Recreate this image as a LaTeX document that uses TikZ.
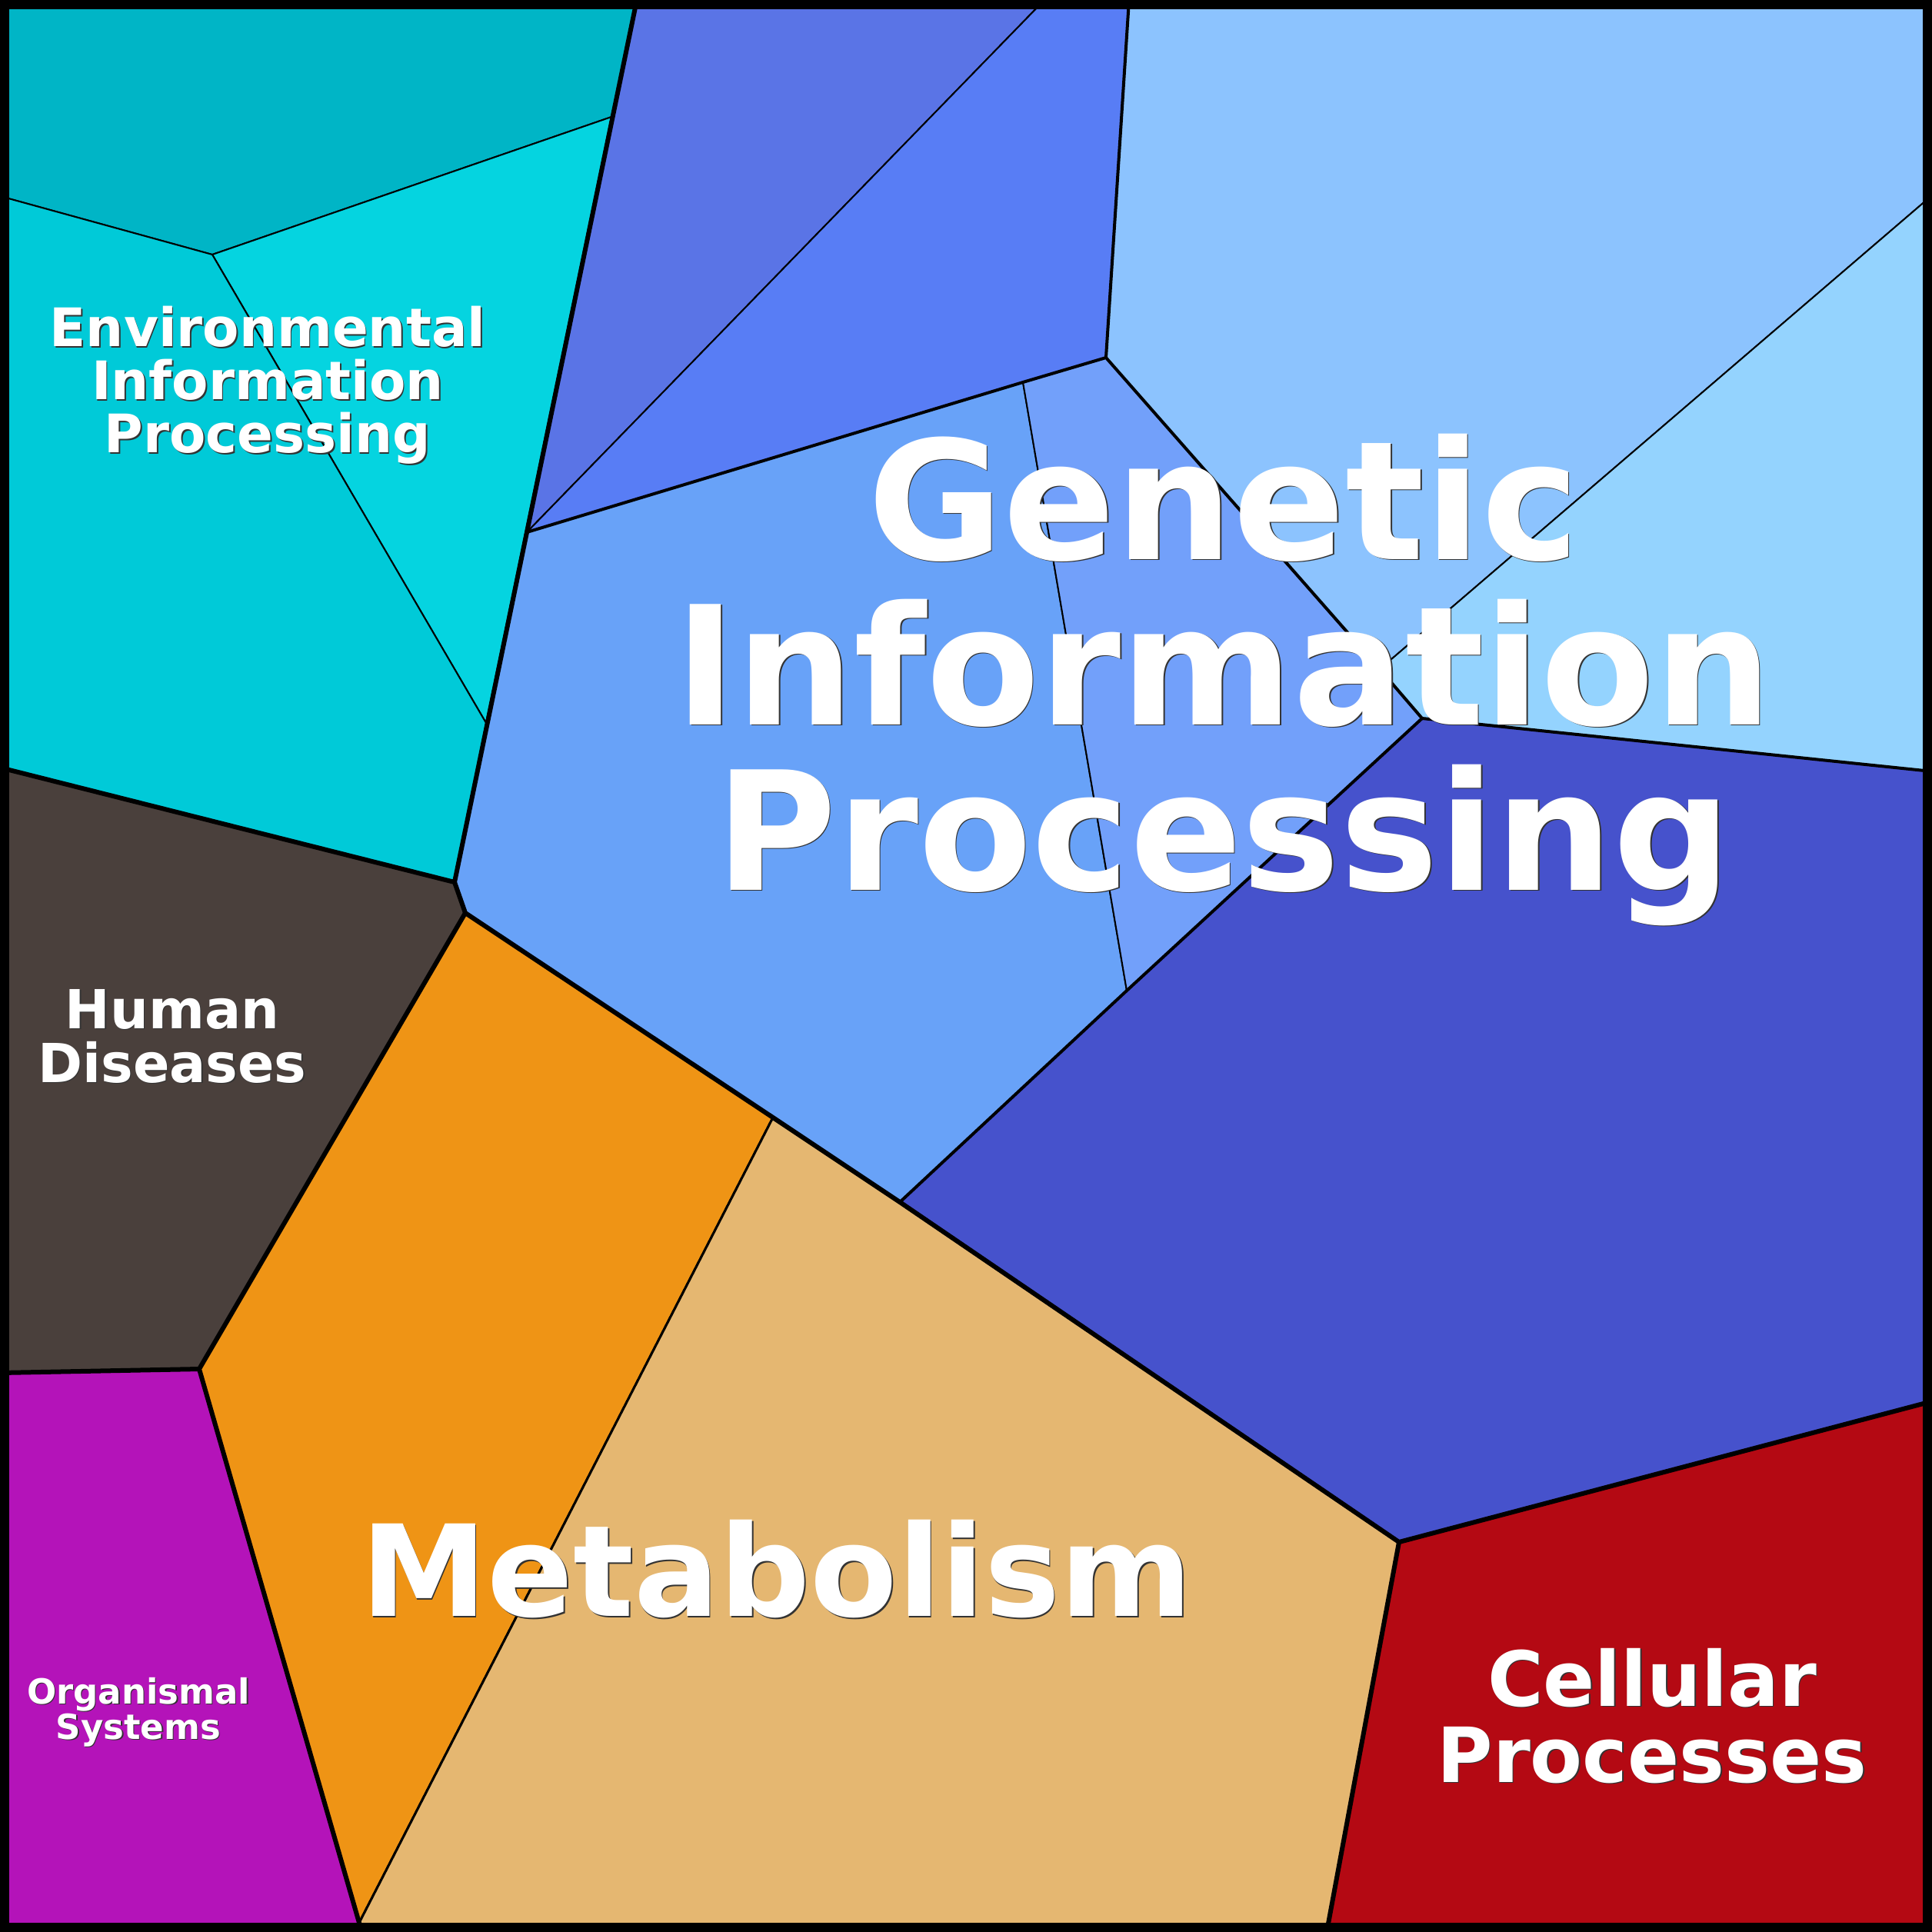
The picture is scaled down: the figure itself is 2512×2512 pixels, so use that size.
\documentclass[tikz,border=0pt]{standalone}
\usepackage{fontspec}
\setmainfont{DejaVu Sans}
\usetikzlibrary{positioning}

\definecolor{envtop}{HTML}{00B5C6}
\definecolor{envright}{HTML}{05D4E0}
\definecolor{envleft}{HTML}{00CAD8}
\definecolor{humdis}{HTML}{4A403C}
\definecolor{orgsys}{HTML}{B413B9}
\definecolor{metaorange}{HTML}{EF9415}
\definecolor{metatan}{HTML}{E5B771}
\definecolor{cellproc}{HTML}{B40913}
\definecolor{genA}{HTML}{5A74E6}
\definecolor{genB}{HTML}{587DF5}
\definecolor{genC}{HTML}{8CC3FE}
\definecolor{genD}{HTML}{94D3FE}
\definecolor{genE}{HTML}{68A2F8}
\definecolor{genF}{HTML}{72A0FA}
\definecolor{genG}{HTML}{4652CC}

\tikzset{
  cell/.style={draw=black, line width=2pt, line join=round},
  lvlone/.style={draw=black, line width=6pt, line join=round, line cap=round},
  lvltwo/.style={draw=black, line width=4pt, line join=round, line cap=round},
  catname/.style={text=white, align=center, inner sep=0pt},
  catshadow/.style={catname, text=black!80, xshift=1.5pt, yshift=-1.5pt}
}

% name, position, font size, leading, text
\newcommand\category[5]{%
  \node[catshadow, font=\bfseries\fontsize{#3}{#4}\selectfont] (#1-sh) at (#2) {#5};
  \node[catname, font=\bfseries\fontsize{#3}{#4}\selectfont] (#1) at (#2) {#5};
}

\begin{document}
\begin{tikzpicture}[x=1pt,y=-1pt]
\useasboundingbox (0,0) rectangle (2512,2512);

% vertices of the cells
\coordinate (t1) at (828,0);
\coordinate (e0) at (0,255);
\coordinate (ec) at (276,331);
\coordinate (e1) at (795,152);
\coordinate (e2) at (632,940);
\coordinate (v1) at (591,1147);
\coordinate (v2) at (605,1187);
\coordinate (h0) at (0,998);
\coordinate (v3) at (259,1780);
\coordinate (o0) at (0,1785);
\coordinate (v4) at (467,2500);
\coordinate (v5) at (470,2512);
\coordinate (m1) at (1005,1453);
\coordinate (m2) at (1170,1563);
\coordinate (c1) at (1819,2005);
\coordinate (c0) at (2512,1822);
\coordinate (c2) at (1725,2512);
\coordinate (a1) at (1358,0);
\coordinate (b0) at (685,692);
\coordinate (b1) at (1468,0);
\coordinate (b2) at (1438,465);
\coordinate (f0) at (1330,497);
\coordinate (f1) at (1465,1288);
\coordinate (g0) at (1849,934);
\coordinate (d0) at (2512,1003);
\coordinate (d1) at (1794,870);
\coordinate (d2) at (2512,254);

% Environmental Information Processing
\path[cell, fill=envtop] (0,0) -- (t1) -- (e1) -- (ec) -- (e0) -- cycle;
\path[cell, fill=envright] (ec) -- (e1) -- (e2) -- cycle;
\path[cell, fill=envleft] (e0) -- (ec) -- (e2) -- (v1) -- (h0) -- cycle;

% Human Diseases, Organismal Systems
\path[cell, fill=humdis] (h0) -- (v1) -- (v2) -- (v3) -- (o0) -- cycle;
\path[cell, fill=orgsys] (o0) -- (v3) -- (v4) -- (v5) -- (0,2512) -- cycle;

% Metabolism
\path[cell, line width=3pt, fill=metaorange] (v2) -- (m1) -- (v4) -- (v3) -- cycle;
\path[cell, line width=3pt, fill=metatan] (m1) -- (m2) -- (c1) -- (c2) -- (v5) -- (v4) -- cycle;

% Cellular Processes
\path[cell, fill=cellproc] (c1) -- (c0) -- (2512,2512) -- (c2) -- cycle;

% Genetic Information Processing
\path[cell, fill=genA] (t1) -- (a1) -- (b0) -- cycle;
\path[cell, fill=genB] (a1) -- (b1) -- (b2) -- (f0) -- (b0) -- cycle;
\path[cell, fill=genC] (b1) -- (2512,0) -- (d2) -- (d1) -- (b2) -- cycle;
\path[cell, fill=genD] (d2) -- (d0) -- (g0) -- (d1) -- cycle;
\path[cell, fill=genE] (b0) -- (f0) -- (f1) -- (m2) -- (v2) -- (v1) -- cycle;
\path[cell, fill=genF] (f0) -- (b2) -- (g0) -- (f1) -- cycle;
\path[cell, fill=genG] (g0) -- (d0) -- (c0) -- (c1) -- (m2) -- (f1) -- cycle;

% second level borders
\draw[lvltwo] (b0) -- (f0) -- (b2) -- (d1) -- (g0) -- (d0);
\draw[lvltwo] (b1) -- (b2);
\draw[lvltwo] (g0) -- (f1) -- (m2);

% first level borders
\draw[lvlone] (t1) -- (v1) -- (h0);
\draw[lvlone] (v1) -- (v2) -- (m1) -- (m2) -- (c1) -- (c0);
\draw[lvlone] (c1) -- (c2);
\draw[lvlone] (v2) -- (v3) -- (v4) -- (v5);
\draw[lvlone] (o0) -- (v3);
\draw[line width=12pt] (6,6) rectangle (2506,2506);

% category names
\category{envinfo}{348,501}{69}{69}{Environmental\\Information\\Processing}
\category{geninfo}{1591,884}{215}{215}{Genetic\\Information\\Processing}
\category{humdis}{224,1347}{70}{70}{Human\\Diseases}
\category{metab}{1010,2040}{165}{165}{Metabolism}
\category{cellproc}{2148,2231}{99}{99}{Cellular\\Processes}
\category{orgsys}{180,2226}{45}{46}{Organismal\\Systems}
\end{tikzpicture}
\end{document}
